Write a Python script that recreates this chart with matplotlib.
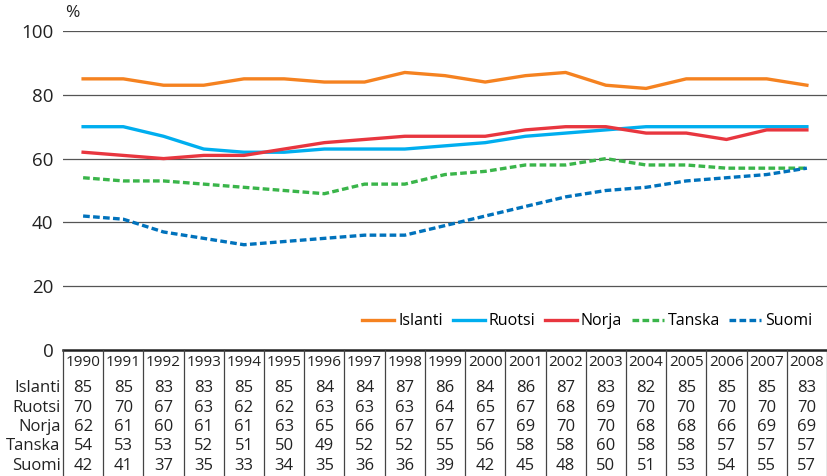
import matplotlib.pyplot as plt

plt.rcParams['font.family'] = ['Open Sans', 'DejaVu Sans']

# Data
years = list(range(1990, 2009))
islanti = [85, 85, 83, 83, 85, 85, 84, 84, 87, 86, 84, 86, 87, 83, 82, 85, 85, 85, 83]
ruotsi = [70, 70, 67, 63, 62, 62, 63, 63, 63, 64, 65, 67, 68, 69, 70, 70, 70, 70, 70]
norja = [62, 61, 60, 61, 61, 63, 65, 66, 67, 67, 67, 69, 70, 70, 68, 68, 66, 69, 69]
tanska = [54, 53, 53, 52, 51, 50, 49, 52, 52, 55, 56, 58, 58, 60, 58, 58, 57, 57, 57]
suomi = [42, 41, 37, 35, 33, 34, 35, 36, 36, 39, 42, 45, 48, 50, 51, 53, 54, 55, 57]

names = ['Islanti', 'Ruotsi', 'Norja', 'Tanska', 'Suomi']
series = [islanti, ruotsi, norja, tanska, suomi]
colors = ['#F58220', '#00AEEF', '#E8363F', '#3AB54A', '#0072BC']
styles = ['-', '-', '-', '--', '--']

W, H = 827, 476
fig = plt.figure(figsize=(W / 100, H / 100), dpi=100)

# Main line chart
ax = fig.add_axes([63 / W, (H - 350) / H, 764 / W, 319 / H])
x = list(range(len(years)))
for s, name, c, ls in zip(series, names, colors, styles):
    ax.plot(x, s, color=c, linestyle=ls, linewidth=2.4, label=name,
            dashes=(2, 1) if ls == '--' else (None, None))

ax.set_xlim(-0.5, len(years) - 0.5)
ax.set_ylim(0, 100)
ax.set_yticks([0, 20, 40, 60, 80, 100])
ax.set_xticks([])
ax.tick_params(axis='y', length=0, pad=7, labelsize=13.5, colors='#222222')
for v in [20, 40, 60, 80, 100]:
    ax.axhline(v, color='#555555', linewidth=0.9, zorder=0)
for sp in ax.spines.values():
    sp.set_visible(False)
ax.axhline(0, color='#222222', linewidth=1.8, clip_on=False)
ax.text(-0.45, 103, '%', fontsize=12.5, color='#222222', va='bottom', ha='left')

leg = ax.legend(loc='lower right', bbox_to_anchor=(1.0, 0.02), ncol=5, frameon=False,
                handlelength=2.0, handletextpad=0.25, columnspacing=0.6, fontsize=11.5)

# Data table below
axt = fig.add_axes([63 / W, 0, 764 / W, 126 / H])
axt.set_xlim(-0.5, len(years) - 0.5)
axt.set_ylim(126, 0)
axt.axis('off')

line_c = '#444444'
for i in range(len(years) + 1):
    axt.plot([i - 0.5, i - 0.5], [0, 126], color=line_c, linewidth=0.9, clip_on=False)

for i, yr in enumerate(years):
    axt.text(i, 13, str(yr), ha='center', va='center', fontsize=11, color='#222222')

row_y = [38, 57.5, 77, 96.5, 116]
for r, (name, s) in enumerate(zip(names, series)):
    axt.text(-0.56, row_y[r], name, ha='right', va='center', fontsize=12,
             color='#222222', clip_on=False)
    for i, v in enumerate(s):
        axt.text(i, row_y[r], str(v), ha='center', va='center', fontsize=12, color='#222222')

fig.savefig('out.png', dpi=100)
